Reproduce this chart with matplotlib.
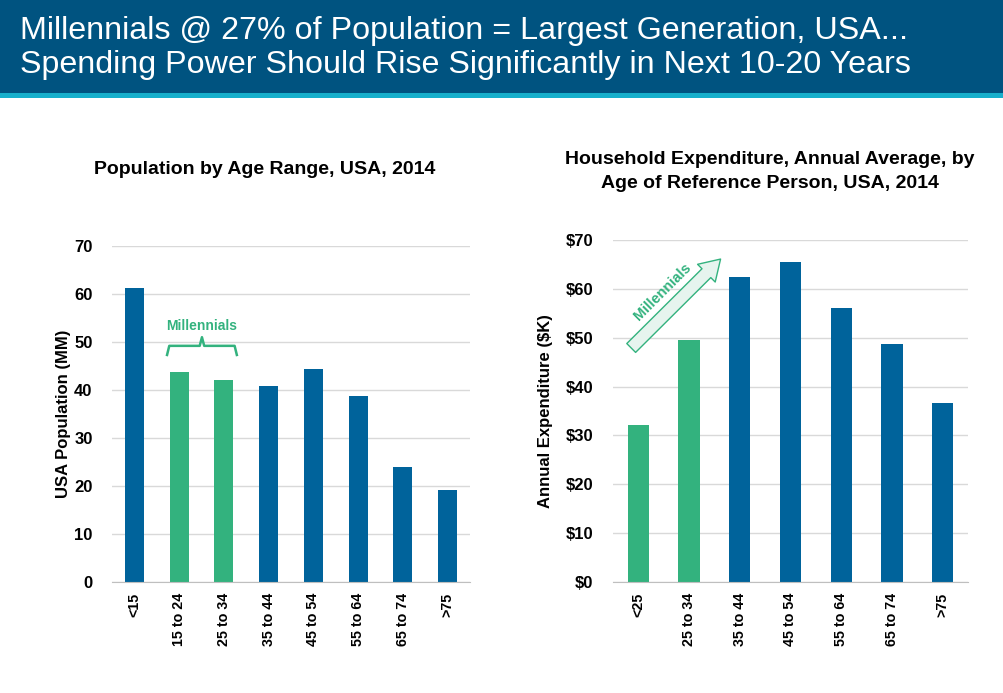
import matplotlib
matplotlib.use('Agg')
import matplotlib.pyplot as plt
from matplotlib.patches import Rectangle, FancyArrowPatch

plt.rcParams['font.family'] = ['Liberation Sans', 'DejaVu Sans']

# data
pop_ages = ['<15', '15 to 24', '25 to 34', '35 to 44', '45 to 54', '55 to 64', '65 to 74', '>75']
pop_values = [61.3, 43.7, 42.1, 40.8, 44.3, 38.7, 23.9, 19.2]
pop_millennial = [False, True, True, False, False, False, False, False]

exp_ages = ['<25', '25 to 34', '35 to 44', '45 to 54', '55 to 64', '65 to 74', '>75']
exp_values = [32.1, 49.5, 62.4, 65.5, 56.1, 48.8, 36.6]
exp_millennial = [True, True, False, False, False, False, False]

BLUE = '#00639b'
GREEN = '#33b27e'
GRID = '#d9d9d9'
W, H = 1004, 693

fig = plt.figure(figsize=(W / 100, H / 100), dpi=100)

# header band
fig.patches.append(Rectangle((0, 1 - 93 / H), 1, 93 / H, transform=fig.transFigure,
                             facecolor='#005380', edgecolor='none', zorder=0))
fig.patches.append(Rectangle((0, 1 - 98 / H), 1, 5 / H, transform=fig.transFigure,
                             facecolor='#17afcb', edgecolor='none', zorder=0))
fig.text(20 / W, 1 - 31 / H, 'Millennials @ 27% of Population = Largest Generation, USA...',
         color='white', fontsize=23.2, va='center', ha='left')
fig.text(20 / W, 1 - 65 / H, 'Spending Power Should Rise Significantly in Next 10-20 Years',
         color='white', fontsize=23.2, va='center', ha='left')


def style_axes(ax):
    for s in ['top', 'right', 'left']:
        ax.spines[s].set_visible(False)
    ax.spines['bottom'].set_color('#bfbfbf')
    ax.grid(axis='y', color=GRID, linewidth=1)
    ax.set_axisbelow(True)
    ax.tick_params(axis='both', length=0)
    for lab in ax.get_yticklabels():
        lab.set_fontweight('bold')
        lab.set_fontsize(12)
    for lab in ax.get_xticklabels():
        lab.set_fontweight('bold')
        lab.set_fontsize(10.3)


# left chart
ax1 = fig.add_axes([112 / W, (H - 582) / H, 358 / W, 336 / H])
x1 = list(range(len(pop_ages)))
ax1.bar(x1, pop_values, width=0.42, color=[GREEN if m else BLUE for m in pop_millennial])
ax1.set_ylim(0, 70)
ax1.set_xlim(-0.5, len(pop_ages) - 0.5)
ax1.set_yticks(range(0, 71, 10))
ax1.set_xticks(x1)
ax1.set_xticklabels(pop_ages, rotation=90, va='top', ha='center')
ax1.tick_params(axis='x', pad=8)
ax1.tick_params(axis='y', pad=14)
ax1.set_ylabel('USA Population (MM)', fontsize=12, fontweight='bold', labelpad=2)
style_axes(ax1)

# brace over millennials
bx0, bx1, by = 0.73, 2.29, 49.2
bm = (bx0 + bx1) / 2
ax1.plot([bx0, bx0 + 0.05, bm - 0.05, bm, bm + 0.05, bx1 - 0.05, bx1],
         [47.3, by, by, 51.0, by, by, 47.3], color=GREEN, lw=1.8, solid_joinstyle='round')
ax1.text(bm, 53.4, 'Millennials', color=GREEN, fontsize=10, fontweight='bold',
         ha='center', va='center')

fig.text(265 / W, 1 - 169 / H, 'Population by Age Range, USA, 2014', fontsize=14,
         fontweight='bold', ha='center', va='center')

# right chart
ax2 = fig.add_axes([613 / W, (H - 582) / H, 355 / W, 342 / H])
x2 = list(range(len(exp_ages)))
ax2.bar(x2, exp_values, width=0.42, color=[GREEN if m else BLUE for m in exp_millennial])
ax2.set_ylim(0, 70)
ax2.set_xlim(-0.5, len(exp_ages) - 0.5)
ax2.set_yticks(range(0, 71, 10))
ax2.set_yticklabels(['$%d' % v for v in range(0, 71, 10)])
ax2.set_xticks(x2)
ax2.set_xticklabels(exp_ages, rotation=90, va='top', ha='center')
ax2.tick_params(axis='x', pad=8)
ax2.tick_params(axis='y', pad=14)
ax2.set_ylabel('Annual Expenditure ($K)', fontsize=12, fontweight='bold', labelpad=9)
style_axes(ax2)

arrow = FancyArrowPatch((-0.18, 47.5), (1.66, 66.5),
                        arrowstyle='simple,head_width=1.5,head_length=1.2,tail_width=0.75',
                        mutation_scale=12, facecolor='#e6f4ee', edgecolor=GREEN,
                        linewidth=1, clip_on=False, zorder=3)
ax2.add_patch(arrow)
ax2.text(0.48, 59.3, 'Millennials', color=GREEN, fontsize=10.5, fontweight='bold',
         rotation=45, ha='center', va='center', zorder=4)

fig.text(770 / W, 1 - 160 / H, 'Household Expenditure, Annual Average, by', fontsize=14,
         fontweight='bold', ha='center', va='center')
fig.text(770 / W, 1 - 183 / H, 'Age of Reference Person, USA, 2014', fontsize=14,
         fontweight='bold', ha='center', va='center')

plt.savefig('out.png', dpi=100)
